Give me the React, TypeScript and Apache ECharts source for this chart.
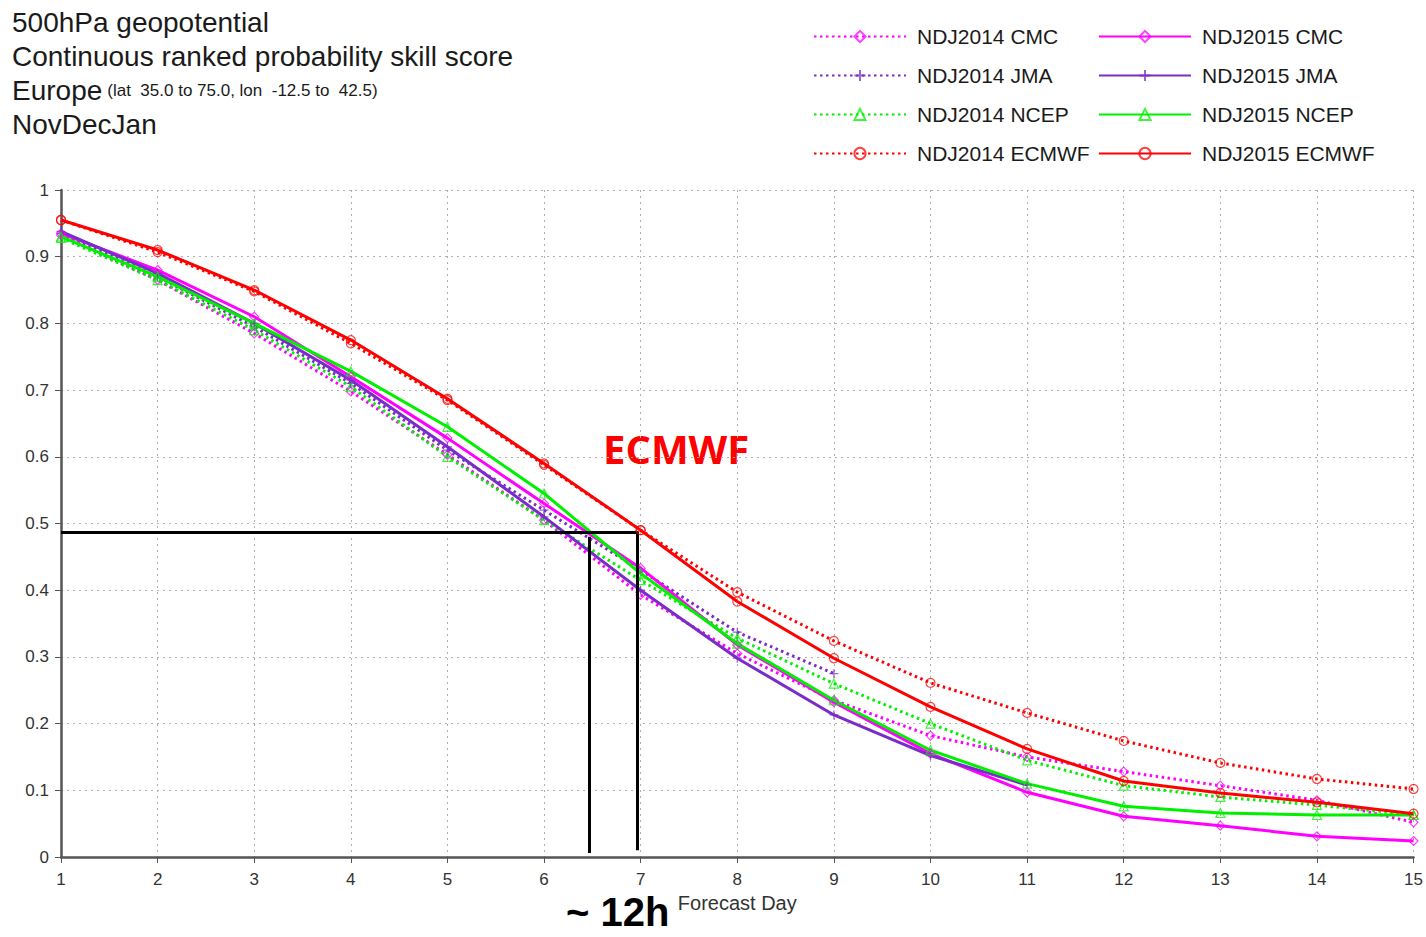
import React, { useEffect, useRef } from "react";
import * as echarts from "echarts";

const days = [1, 2, 3, 4, 5, 6, 7, 8, 9, 10, 11, 12, 13, 14, 15];

const cmc2014 = [0.932, 0.865, 0.785, 0.698, 0.603, 0.505, 0.393, 0.305, 0.235, 0.182, 0.15, 0.128, 0.107, 0.085, 0.052];
const jma2014 = [0.935, 0.87, 0.795, 0.71, 0.61, 0.52, 0.43, 0.337, 0.275];
const ncep2014 = [0.928, 0.865, 0.79, 0.705, 0.6, 0.505, 0.415, 0.328, 0.26, 0.2, 0.145, 0.107, 0.09, 0.078, 0.063];
const ecmwf2014 = [0.955, 0.907, 0.848, 0.77, 0.685, 0.588, 0.49, 0.397, 0.324, 0.261, 0.216, 0.174, 0.141, 0.117, 0.102];

const cmc2015 = [0.935, 0.88, 0.81, 0.72, 0.628, 0.53, 0.433, 0.318, 0.232, 0.155, 0.097, 0.061, 0.047, 0.031, 0.024];
const jma2015 = [0.938, 0.875, 0.8, 0.715, 0.615, 0.51, 0.4, 0.298, 0.213, 0.152, 0.108];
const ncep2015 = [0.93, 0.87, 0.8, 0.728, 0.645, 0.545, 0.425, 0.32, 0.235, 0.16, 0.11, 0.076, 0.066, 0.063, 0.063];
const ecmwf2015 = [0.955, 0.91, 0.85, 0.775, 0.687, 0.59, 0.49, 0.383, 0.298, 0.225, 0.162, 0.114, 0.096, 0.082, 0.065];

// annotation lines (in data units: [day, score])
const annoHorizontal = [[1, 0.487], [6.98, 0.487]];
const annoVertical1 = [[6.47, 0.48], [6.47, 0.006]];
const annoVertical2 = [[6.96, 0.487], [6.96, 0.01]];

const legend2014 = ["NDJ2014 CMC", "NDJ2014 JMA", "NDJ2014 NCEP", "NDJ2014 ECMWF"];
const legend2015 = ["NDJ2015 CMC", "NDJ2015 JMA", "NDJ2015 NCEP", "NDJ2015 ECMWF"];

const MAG = "#ff00ff";
const PUR = "#7a2cc8";
const GRN = "#00f000";
const RED = "#ff0000";

const PLUS = "path://M5,0L5,10M0,5L10,5";

function mk(name: string, vals: number[], color: string, symbol: string, dotted: boolean, z: number) {
  return {
    name,
    type: "line",
    data: vals.map((v, i) => [days[i], v]),
    symbol,
    symbolSize: 9,
    showSymbol: true,
    z,
    lineStyle: { color, width: 3, type: dotted ? [2.5, 3.5] : "solid" },
    itemStyle: { color: "rgba(255,255,255,0)", borderColor: color, borderWidth: 1.2, opacity: 0.75 },
    emphasis: { disabled: true },
  };
}

export default function App() {
  const ref = useRef<HTMLDivElement>(null);
  useEffect(() => {
    document.body.style.margin = "0";
    const chart = echarts.init(ref.current!, null, { renderer: "svg" });
    const font = "Liberation Sans";
    const legendText = { fontSize: 21, color: "#1a1a1a", fontFamily: font, lineHeight: 20, padding: [0, 0, 0, 6] };
    chart.setOption({
      animation: false,
      backgroundColor: "#ffffff",
      textStyle: { fontFamily: font },
      title: {
        left: 12,
        top: 5,
        padding: 0,
        text:
          "{a|500hPa geopotential}\n{a|Continuous ranked probability skill score}\n{a|Europe} {b|(lat  35.0 to 75.0, lon  -12.5 to  42.5)}\n{a|NovDecJan}",
        textStyle: {
          fontWeight: "normal",
          rich: {
            a: { fontSize: 28, color: "#1a1a1a", fontFamily: font, fontWeight: "normal", lineHeight: 34 },
            b: { fontSize: 17, color: "#1a1a1a", fontFamily: font, fontWeight: "normal", lineHeight: 34 },
          },
        },
      },
      legend: [
        {
          left: 808,
          top: 21,
          orient: "vertical",
          itemWidth: 92,
          itemHeight: 14,
          itemGap: 18,
          data: legend2014,
          textStyle: legendText,
          selectedMode: false,
        },
        {
          left: 1093,
          top: 21,
          orient: "vertical",
          itemWidth: 92,
          itemHeight: 14,
          itemGap: 18,
          data: legend2015,
          textStyle: legendText,
          selectedMode: false,
        },
      ],
      grid: { left: 61, top: 190, width: 1357, height: 667, containLabel: false },
      xAxis: {
        type: "value",
        min: 1,
        max: 15,
        interval: 1,
        name: "Forecast Day",
        nameLocation: "middle",
        nameGap: 36,
        nameTextStyle: { fontSize: 20, color: "#333", fontFamily: font },
        axisLine: { show: true, lineStyle: { color: "#555", width: 2.5 } },
        axisTick: { show: true, length: 6, lineStyle: { color: "#555" } },
        axisLabel: { fontSize: 17, color: "#333", margin: 14 },
        splitLine: { show: true, lineStyle: { color: "#b0b0b0", type: [2, 4], width: 1 } },
      },
      yAxis: {
        type: "value",
        min: 0,
        max: 1,
        interval: 0.1,
        axisLine: { show: true, lineStyle: { color: "#555", width: 2.5 } },
        axisTick: { show: true, length: 6, lineStyle: { color: "#555" } },
        axisLabel: { fontSize: 17, color: "#333", margin: 12 },
        splitLine: { show: true, lineStyle: { color: "#b0b0b0", type: [2, 4], width: 1 } },
      },
      series: [
        mk(legend2014[0], cmc2014, MAG, "diamond", true, 2),
        mk(legend2014[1], jma2014, PUR, PLUS, true, 2),
        mk(legend2014[2], ncep2014, GRN, "triangle", true, 2),
        mk(legend2014[3], ecmwf2014, RED, "circle", true, 3),
        mk(legend2015[0], cmc2015, MAG, "diamond", false, 4),
        mk(legend2015[1], jma2015, PUR, PLUS, false, 4),
        mk(legend2015[2], ncep2015, GRN, "triangle", false, 4),
        mk(legend2015[3], ecmwf2015, RED, "circle", false, 5),
        {
          name: "annotation",
          type: "line",
          data: [],
          z: 6,
          markLine: {
            silent: true,
            symbol: "none",
            animation: false,
            label: { show: false },
            lineStyle: { color: "#000", width: 3, type: "solid" },
            data: [
              [{ coord: annoHorizontal[0] }, { coord: annoHorizontal[1] }],
              [{ coord: annoVertical1[0] }, { coord: annoVertical1[1] }],
              [{ coord: annoVertical2[0] }, { coord: annoVertical2[1] }],
            ],
          },
        },
      ],
      graphic: [
        {
          type: "text",
          left: 603,
          top: 428,
          style: { text: "ECMWF", fill: "#ff0000", font: "bold 40px 'Open Sans'" },
        },
        {
          type: "text",
          left: 566,
          top: 892,
          style: { text: "~ 12h", fill: "#000", font: "bold 40px 'Liberation Sans'" },
        },
      ],
    });
    return () => chart.dispose();
  }, []);
  return <div ref={ref} style={{ position: "absolute", left: 0, top: 0, width: 1426, height: 937 }} />;
}
